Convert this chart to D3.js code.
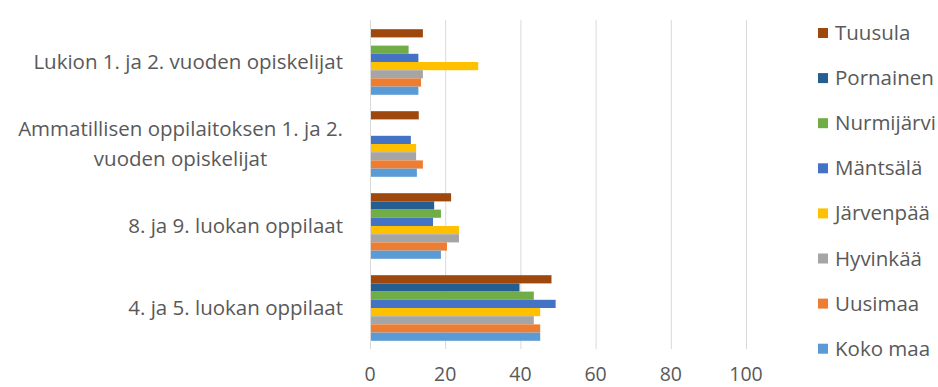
<!DOCTYPE html>
<html>
<head>
<meta charset="utf-8">
<script src="https://cdn.jsdelivr.net/npm/d3@7"></script>
<style>
  body { margin: 0; background: #fff; }
  text { font-family: "Open Sans", sans-serif; fill: #595959; }
</style>
</head>
<body>
<script>
const [w, h] = [938, 387];

// categories, top to bottom
const categories = [
  ['Lukion 1. ja 2. vuoden opiskelijat'],
  ['Ammatillisen oppilaitoksen 1. ja 2.', 'vuoden opiskelijat'],
  ['8. ja 9. luokan oppilaat'],
  ['4. ja 5. luokan oppilaat']
];
// series, top to bottom inside each group
const series = ['Tuusula', 'Pornainen', 'Nurmijärvi', 'Mäntsälä', 'Järvenpää', 'Hyvinkää', 'Uusimaa', 'Koko maa'];
const colors = ['#9E480E', '#255E91', '#70AD47', '#4472C4', '#FFC000', '#A5A5A5', '#ED7D31', '#5B9BD5'];

// values per series, in category order (null = no data)
const tuusula    = [13.8, 12.7, 21.3, 48.0];
const pornainen  = [null, null, 16.8, 39.5];
const nurmijarvi = [10.0, null, 18.6, 43.3];
const mantsala   = [12.6, 10.6, 16.5, 49.1];
const jarvenpaa  = [28.5, 12.0, 23.4, 45.0];
const hyvinkaa   = [13.8, 12.0, 23.4, 43.3];
const uusimaa    = [13.3, 13.8, 20.2, 45.0];
const kokomaa    = [12.6, 12.2, 18.6, 45.0];
const values = [tuusula, pornainen, nurmijarvi, mantsala, jarvenpaa, hyvinkaa, uusimaa, kokomaa];

const ticks = [0, 20, 40, 60, 80, 100];
const fontSize = 20.5;

const svg = d3.select('body').append('svg').attr('width', w).attr('height', h);

const x = d3.scaleLinear().domain([0, 100]).range([370, 746]);
const y = d3.scaleBand().domain(d3.range(categories.length)).range([21, 349]).paddingInner(0.2).paddingOuter(0.1);
const yInner = d3.scaleBand().domain(series).range([0, y.bandwidth()]);

// gridlines
svg.append('g').selectAll('line')
  .data(ticks)
  .enter()
  .append('line')
  .attr('x1', d => x(d) + 0.5).attr('x2', d => x(d) + 0.5)
  .attr('y1', 20).attr('y2', 349)
  .attr('stroke', '#D9D9D9').attr('stroke-width', 1);

// bars
const group = svg.selectAll('g.grp')
  .data(categories)
  .enter()
  .append('g')
  .attr('class', 'grp')
  .attr('transform', (d, i) => `translate(0, ${y(i)})`);

group.selectAll('rect')
  .data((d, i) => series.map((s, j) => ({ s: s, j: j, v: values[j][i] })).filter(b => b.v !== null))
  .enter()
  .append('rect')
  .attr('x', x(0) + 1)
  .attr('y', b => yInner(b.s))
  .attr('width', b => x(b.v) - x(0))
  .attr('height', yInner.bandwidth())
  .attr('fill', b => colors[b.j]);

// category labels: block right-aligned at 343, lines centred inside the block
const labels = svg.append('g').selectAll('text')
  .data(categories)
  .enter()
  .append('text')
  .attr('text-anchor', 'middle')
  .attr('font-size', fontSize);

labels.selectAll('tspan')
  .data((d, i) => d.map((t, k) => ({ t: t, k: k, n: d.length, i: i })))
  .enter()
  .append('tspan')
  .attr('y', t => y(t.i) + y.bandwidth() / 2 + 7 + (t.k - (t.n - 1) / 2) * 30)
  .text(t => t.t);

labels.each(function () {
  const spans = d3.select(this).selectAll('tspan');
  const maxW = d3.max(spans.nodes(), n => n.getComputedTextLength());
  spans.attr('x', 343 - maxW / 2);
});

// x tick labels
svg.append('g').selectAll('text')
  .data(ticks)
  .enter()
  .append('text')
  .attr('x', d => x(d))
  .attr('y', 381)
  .attr('text-anchor', 'middle')
  .attr('font-size', 19.5)
  .text(d => d);

// legend
const legend = svg.append('g').selectAll('g')
  .data(series)
  .enter()
  .append('g')
  .attr('transform', (d, i) => `translate(818, ${33 + i * 45.1})`);

legend.append('rect')
  .attr('x', 0).attr('y', -5)
  .attr('width', 10).attr('height', 10)
  .attr('fill', (d, i) => colors[i]);

legend.append('text')
  .attr('x', 17)
  .attr('y', 7)
  .attr('font-size', fontSize)
  .text(d => d);
</script>
</body>
</html>
